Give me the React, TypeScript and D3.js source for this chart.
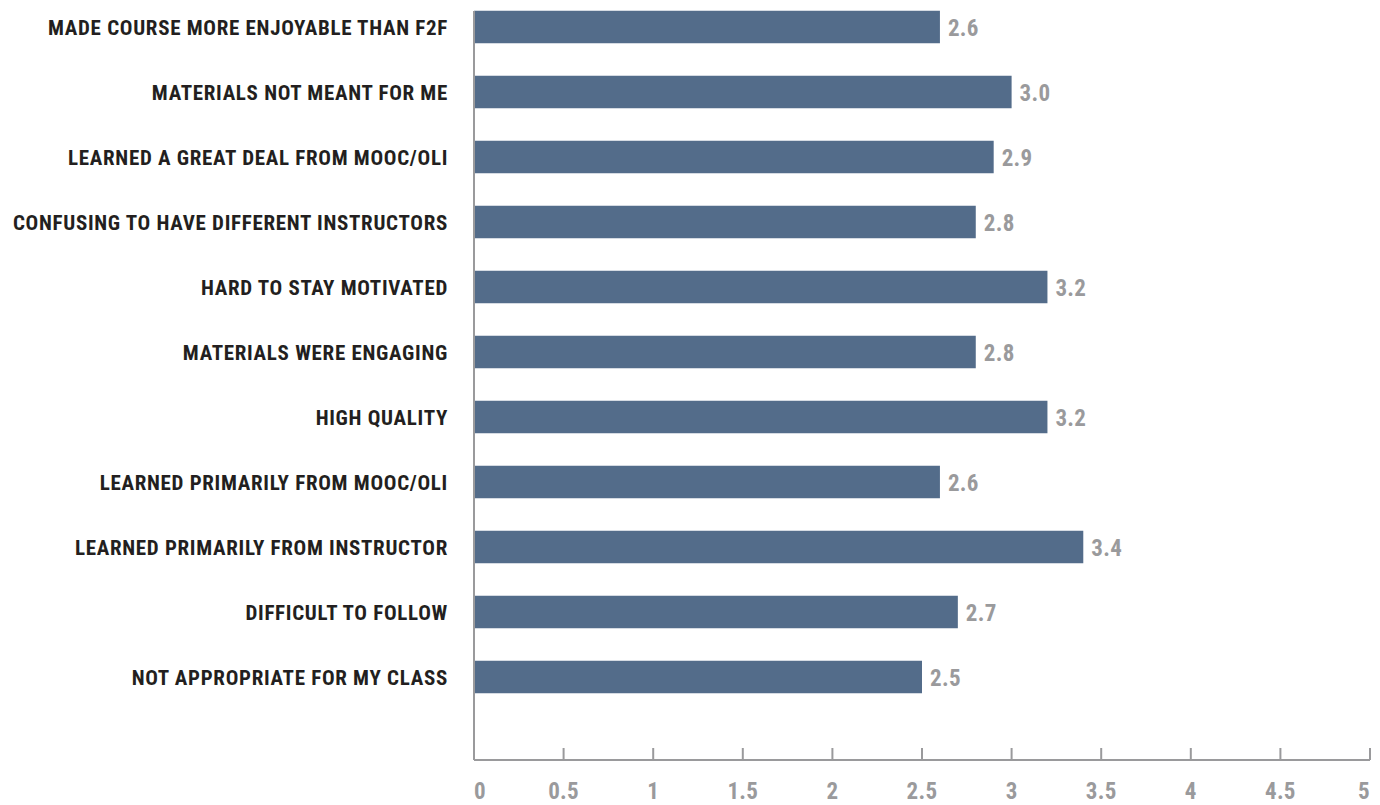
import React from "react";
import * as d3 from "d3";

const categories = [
  "MADE COURSE MORE ENJOYABLE THAN F2F",
  "MATERIALS NOT MEANT FOR ME",
  "LEARNED A GREAT DEAL FROM MOOC/OLI",
  "CONFUSING TO HAVE DIFFERENT INSTRUCTORS",
  "HARD TO STAY MOTIVATED",
  "MATERIALS WERE ENGAGING",
  "HIGH QUALITY",
  "LEARNED PRIMARILY FROM MOOC/OLI",
  "LEARNED PRIMARILY FROM INSTRUCTOR",
  "DIFFICULT TO FOLLOW",
  "NOT APPROPRIATE FOR MY CLASS",
];
const values = [2.6, 3.0, 2.9, 2.8, 3.2, 2.8, 3.2, 2.6, 3.4, 2.7, 2.5];
const xTicks = [0, 0.5, 1, 1.5, 2, 2.5, 3, 3.5, 4, 4.5, 5];

const W = 1380;
const H = 805;
const FONT = "'Liberation Sans Narrow', 'Roboto Condensed', 'DejaVu Sans Condensed', sans-serif";

export default function App() {
  const x = d3.scaleLinear().domain([0, 5]).range([474, 1370]);
  const y = d3
    .scaleBand<string>()
    .domain(categories)
    .range([-5.5, 709.5])
    .paddingInner(0.5)
    .paddingOuter(0.25);
  const axisY = 760;
  return (
    <svg width={W} height={H} style={{ position: "absolute", left: 0, top: 0, background: "#fff" }}>
      {categories.map((c, i) => {
        const yy = y(c)!;
        const bw = y.bandwidth();
        return (
          <g key={c}>
            <rect x={x(0)} y={yy} width={x(values[i]) - x(0)} height={bw} fill="#536c8a" />
            <text x={448} y={yy + bw / 2} dy="0.36em" textAnchor="end" fontFamily={FONT} fontWeight="bold" fontSize={21} fill="#231f20" letterSpacing={0.7}>
              {c}
            </text>
            <text x={x(values[i]) + 8} y={yy + bw / 2 + 0.5} dy="0.36em" fontFamily={FONT} fontWeight="bold" fontSize={23} fill="#9a9a9c" letterSpacing={0.3}>
              {values[i].toFixed(1)}
            </text>
          </g>
        );
      })}
      <line x1={x(0)} x2={x(0)} y1={11} y2={axisY} stroke="#9a9a9c" strokeWidth={2} />
      <line x1={x(0)} x2={x(5)} y1={axisY} y2={axisY} stroke="#9a9a9c" strokeWidth={2} />
      {xTicks.map((t) => (
        <g key={t}>
          {t > 0 && <line x1={x(t)} x2={x(t)} y1={748} y2={axisY} stroke="#9a9a9c" strokeWidth={2} />}
          <text x={x(t)} y={790.5} dy="0.36em" textAnchor={t === 0 ? "start" : t === 5 ? "end" : "middle"} fontFamily={FONT} fontWeight="bold" fontSize={23} fill="#9a9a9c" letterSpacing={0.3}>
            {String(t)}
          </text>
        </g>
      ))}
    </svg>
  );
}
